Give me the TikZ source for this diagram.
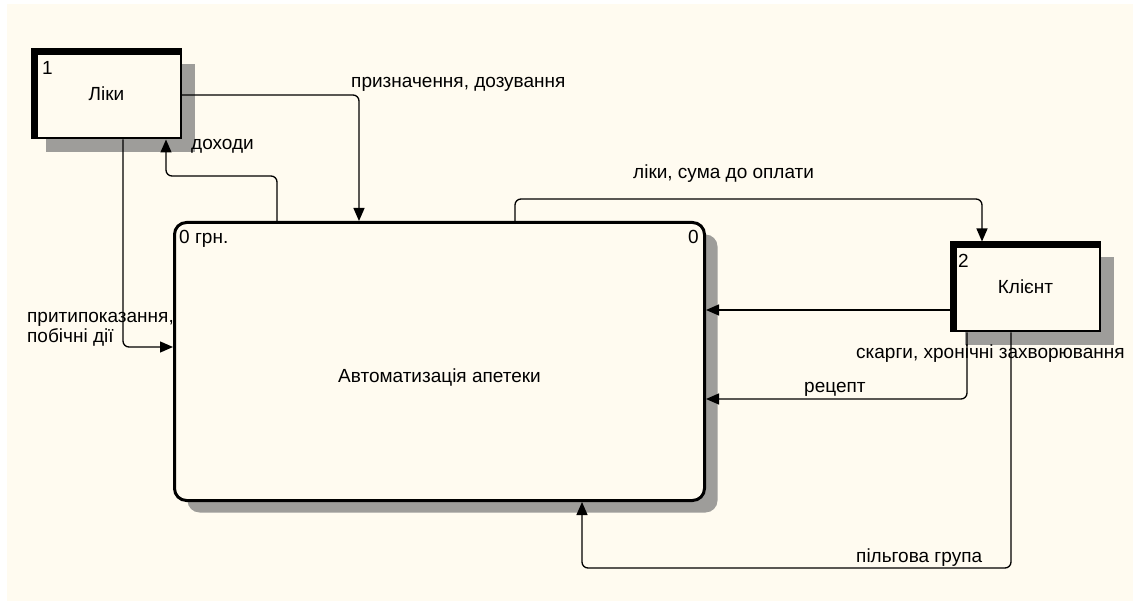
\documentclass[tikz,border=0pt]{standalone}
\usepackage{fontspec}
\setmainfont{Liberation Sans}
\usetikzlibrary{arrows.meta,calc,shadows}
\definecolor{cream}{RGB}{255,251,240}
\definecolor{shade}{RGB}{158,157,154}
\begin{document}
\begin{tikzpicture}[x=1pt,y=-1pt,
  every node/.style={font=\fontsize{19}{20}\selectfont, text=black},
  entity/.style={rectangle, draw=black, line width=2.5pt, fill=cream, minimum width=148.5pt, minimum height=88.5pt, inner sep=0pt, drop shadow={shadow xshift=14pt, shadow yshift=-14pt, fill=shade, opacity=1}},
  process/.style={rectangle, rounded corners=12pt, draw=black, line width=3pt, fill=cream, minimum width=530pt, minimum height=278pt, drop shadow={shadow xshift=13pt, shadow yshift=-12pt, fill=shade, opacity=1}},
  flow/.style={draw=black, line width=1.3pt, rounded corners=6pt, -{Triangle[length=13pt,width=11pt]}},
  lbl/.style={anchor=base west, inner sep=0pt}
]
\useasboundingbox (0,0) rectangle (1133,601);
\fill[white] (0,0) rectangle (1133,601);
\fill[cream] (7,4) rectangle (1133,601);

% process
\node[process] (proc) at (439.5,361.5) {};
\node[anchor=base, inner sep=0pt] (proctext) at (439.5,383) {Автоматизація апетеки};
\node[lbl] (procid) at (179,244) {0 грн.};
\node[anchor=base east, inner sep=0pt] (procnum) at (699,244) {0};

% entities
\node[entity] (liki) at (106.5,94) {Ліки};
\fill (liki.north west) rectangle ($(liki.north east)+(0,7)$);
\fill (liki.north west) rectangle ($(liki.south west)+(7,0)$);
\node[lbl] (likinum) at (42,75) {1};

\node[entity] (client) at (1025.5,287) {Клієнт};
\fill (client.north west) rectangle ($(client.north east)+(0,7)$);
\fill (client.north west) rectangle ($(client.south west)+(7,0)$);
\node[lbl] (clientnum) at (958,268) {2};

% helper coordinates
\coordinate (xa) at (359,95);
\coordinate (xb) at (277,176);
\coordinate (xc) at (166,176);
\coordinate (xd) at (123,347);
\coordinate (xe) at (515,199);
\coordinate (xf) at (982,199);
\coordinate (xg) at (0,310);
\coordinate (xh) at (967,399);
\coordinate (xi) at (1011,568);
\coordinate (xj) at (582,568);

% flows
\draw[flow] (liki.east |- xa) -| (proc.north -| xa);
\draw[flow] (proc.north -| xb) |- (xc) -- (liki.south -| xc);
\draw[flow] (liki.south -| xd) |- (proc.west |- xd);
\draw[flow] (proc.north -| xe) -- (xe) -- (xf) -- (client.north -| xf);
\draw[flow] (client.west |- xg) -- (proc.east |- xg);
\draw[flow] (client.south -| xh) |- (proc.east |- xh);
\draw[flow] (client.south -| xi) |- (xj) -- (proc.south -| xj);

% labels
\node[lbl] (l1) at (351,88) {призначення, дозування};
\node[lbl] (l2) at (191,150) {доходи};
\node[lbl, align=left] (l3) at (27,343) {притипоказання,\\побічні дії};
\node[lbl] (l4) at (633,179) {ліки, сума до оплати};
\node[lbl] (l5) at (856,359) {скарги, хронічні захворювання};
\node[lbl] (l6) at (804,393) {рецепт};
\node[lbl] (l7) at (856,562) {пільгова група};
\end{tikzpicture}
\end{document}
